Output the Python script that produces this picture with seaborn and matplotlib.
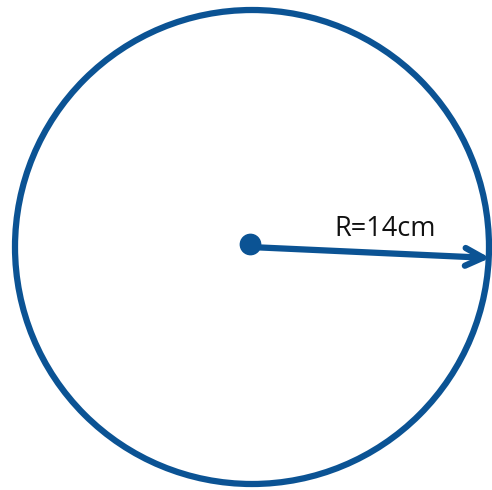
import matplotlib
matplotlib.use("Agg")
import matplotlib.pyplot as plt
import matplotlib.patches as mpatches
import seaborn as sns
import pandas as pd

# circle geometry, in picture pixels
center_x = [250]
center_y = [244]
radius = 237
circle_cx = 252
circle_cy = 247
arrow_end = (490, 258)
label = "R=14cm"

blue = "#0B5394"

sns.set_style("white")

fig = plt.figure(figsize=(4.92, 4.90), dpi=100)
ax = fig.add_axes([0, 0, 1, 1])
ax.set_xlim(0, 492)
ax.set_ylim(490, 0)
ax.set_aspect("equal")
ax.axis("off")

circle = mpatches.Circle((circle_cx, circle_cy), radius, fill=False,
                         edgecolor=blue, linewidth=4.5)
ax.add_patch(circle)

df = pd.DataFrame({"x": center_x, "y": center_y})
sns.scatterplot(data=df, x="x", y="y", s=210, color=blue, edgecolor=blue, ax=ax, zorder=3)

ax.annotate("", xy=arrow_end, xytext=(center_x[0], center_y[0] + 3),
            arrowprops=dict(arrowstyle="->", color=blue, lw=4.5,
                            mutation_scale=32, shrinkA=0, shrinkB=0))

ax.text(385, 229, label, fontsize=19.5, color="#111111", family="Open Sans",
        ha="center", va="center")

ax.set_xlim(0, 492)
ax.set_ylim(490, 0)
ax.axis("off")
fig.savefig("out.png", dpi=100)
